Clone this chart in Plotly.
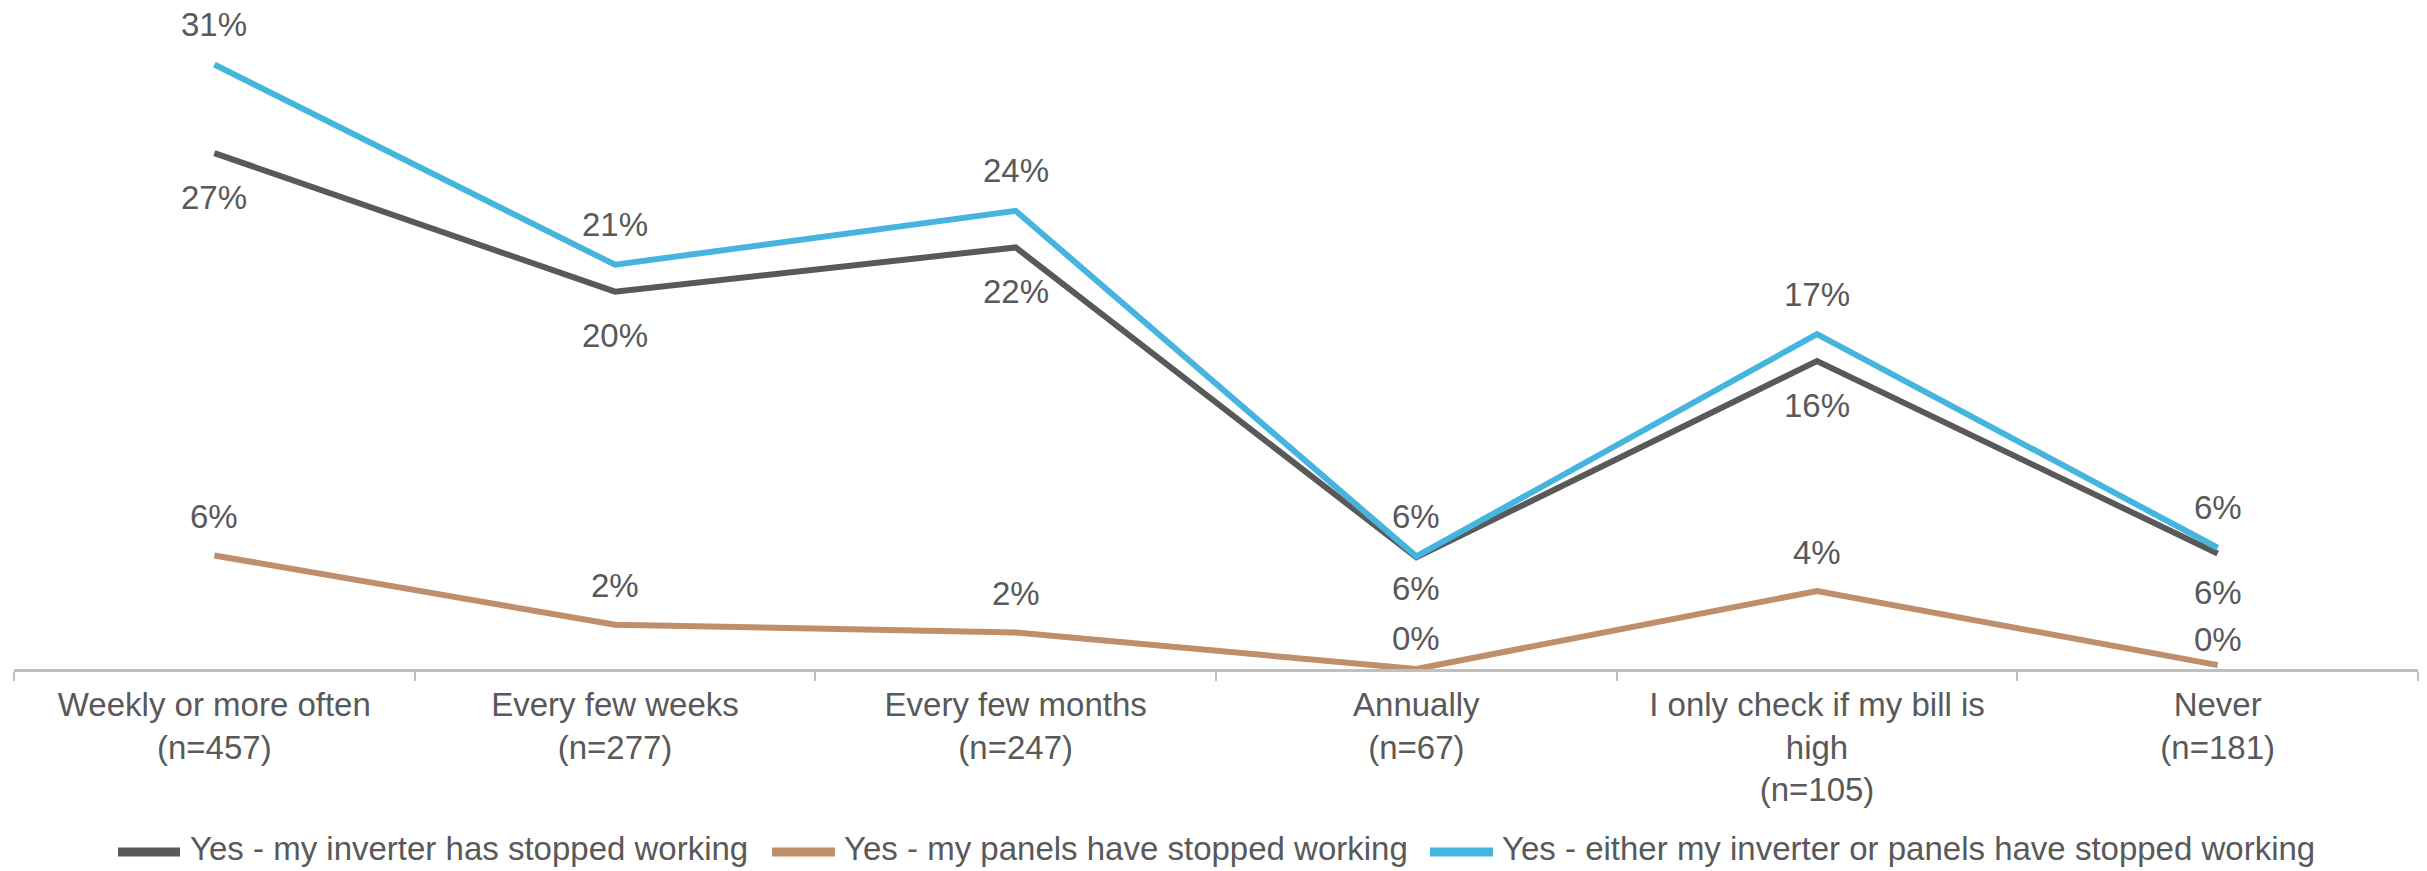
import plotly.graph_objects as go

# ---------------- data ----------------
categories = [
    "Weekly or more often<br>(n=457)",
    "Every few weeks<br>(n=277)",
    "Every few months<br>(n=247)",
    "Annually<br>(n=67)",
    "I only check if my bill is<br>high<br>(n=105)",
    "Never<br>(n=181)",
]
inverter_stopped = [26.8, 19.6, 21.9, 5.8, 16.0, 6.0]
panels_stopped = [5.9, 2.3, 1.9, 0.0, 4.05, 0.2]
either_stopped = [31.4, 21.0, 23.8, 5.85, 17.4, 6.3]

series_names = [
    "Yes - my inverter has stopped working",
    "Yes - my panels have stopped working",
    "Yes - either my inverter or panels have stopped working",
]

# ---------------- style ----------------
W, H = 2427, 871
ML, MR, MT, MB = 14, 9, 20, 202
PW, PH = W - ML - MR, H - MT - MB
PX_PER_PCT = 19.25
YMAX = PH / PX_PER_PCT

FONT = "Liberation Sans, Arial, sans-serif"
TXT = "#595959"
COL_GREY = "#595959"
COL_BROWN = "#BF8F6B"
COL_BLUE = "#45B5E0"
LW = 6

series = [
    (series_names[0], inverter_stopped, COL_GREY, -44),
    (series_names[1], panels_stopped, COL_BROWN, 39),
    (series_names[2], either_stopped, COL_BLUE, 40),
]
# manual label nudges (series index, category index) -> yshift px
label_shift_override = {(0, 3): -31, (1, 3): 31, (0, 5): -39, (1, 5): 26}

fig = go.Figure()
for name, vals, col, _ in series:
    fig.add_trace(go.Scatter(
        x=categories, y=vals, mode="lines", name=name,
        line=dict(color=col, width=LW), showlegend=False,
        hoverinfo="skip",
    ))

annotations = []
for si, (name, vals, col, shift) in enumerate(series):
    for ci, (c, v) in enumerate(zip(categories, vals)):
        annotations.append(dict(
            x=c, y=v, xref="x", yref="y", text=f"{round(v)}%",
            showarrow=False, yshift=label_shift_override.get((si, ci), shift),
            xanchor="center", yanchor="middle",
            font=dict(family=FONT, size=33, color=TXT),
        ))


def px_x(px):
    return (px - ML) / PW


def px_y(py):
    return (H - MB - py) / PH


# custom legend
legend_pos = [(115, 183, 188), (769, 838, 842), (1427, 1496, 1500)]
leg_y = 852
shapes = []
for (name, vals, col, _), (x0, x1, xt) in zip(series, legend_pos):
    shapes.append(dict(
        type="line", xref="paper", yref="paper",
        x0=px_x(x0 + 3), x1=px_x(x1 - 3), y0=px_y(leg_y), y1=px_y(leg_y),
        line=dict(color=col, width=9),
    ))
    annotations.append(dict(
        x=px_x(xt), y=px_y(leg_y - 3), xref="paper", yref="paper", text=name,
        showarrow=False, xanchor="left", yanchor="middle",
        font=dict(family=FONT, size=33, color=TXT),
    ))

fig.update_layout(
    width=W, height=H,
    margin=dict(l=ML, r=MR, t=MT, b=MB, pad=0),
    paper_bgcolor="white", plot_bgcolor="white",
    showlegend=False,
    annotations=annotations,
    shapes=shapes,
    font=dict(family=FONT, size=33, color=TXT),
    xaxis=dict(
        type="category", range=[-0.5, 5.5],
        showline=True, linecolor="#BFBFBF", linewidth=3,
        ticks="outside", tickson="boundaries", ticklen=9, tickwidth=2,
        tickcolor="#BFBFBF", ticklabelstandoff=4,
        tickfont=dict(family=FONT, size=33, color=TXT),
        showgrid=False, zeroline=False, fixedrange=True,
    ),
    yaxis=dict(
        range=[0, YMAX], visible=False, showgrid=False, zeroline=False,
        fixedrange=True,
    ),
)

fig.write_html(
    "out.html",
    config={"displayModeBar": False, "staticPlot": True},
    post_script="document.body.style.margin='0';document.body.style.overflow='hidden';",
)
